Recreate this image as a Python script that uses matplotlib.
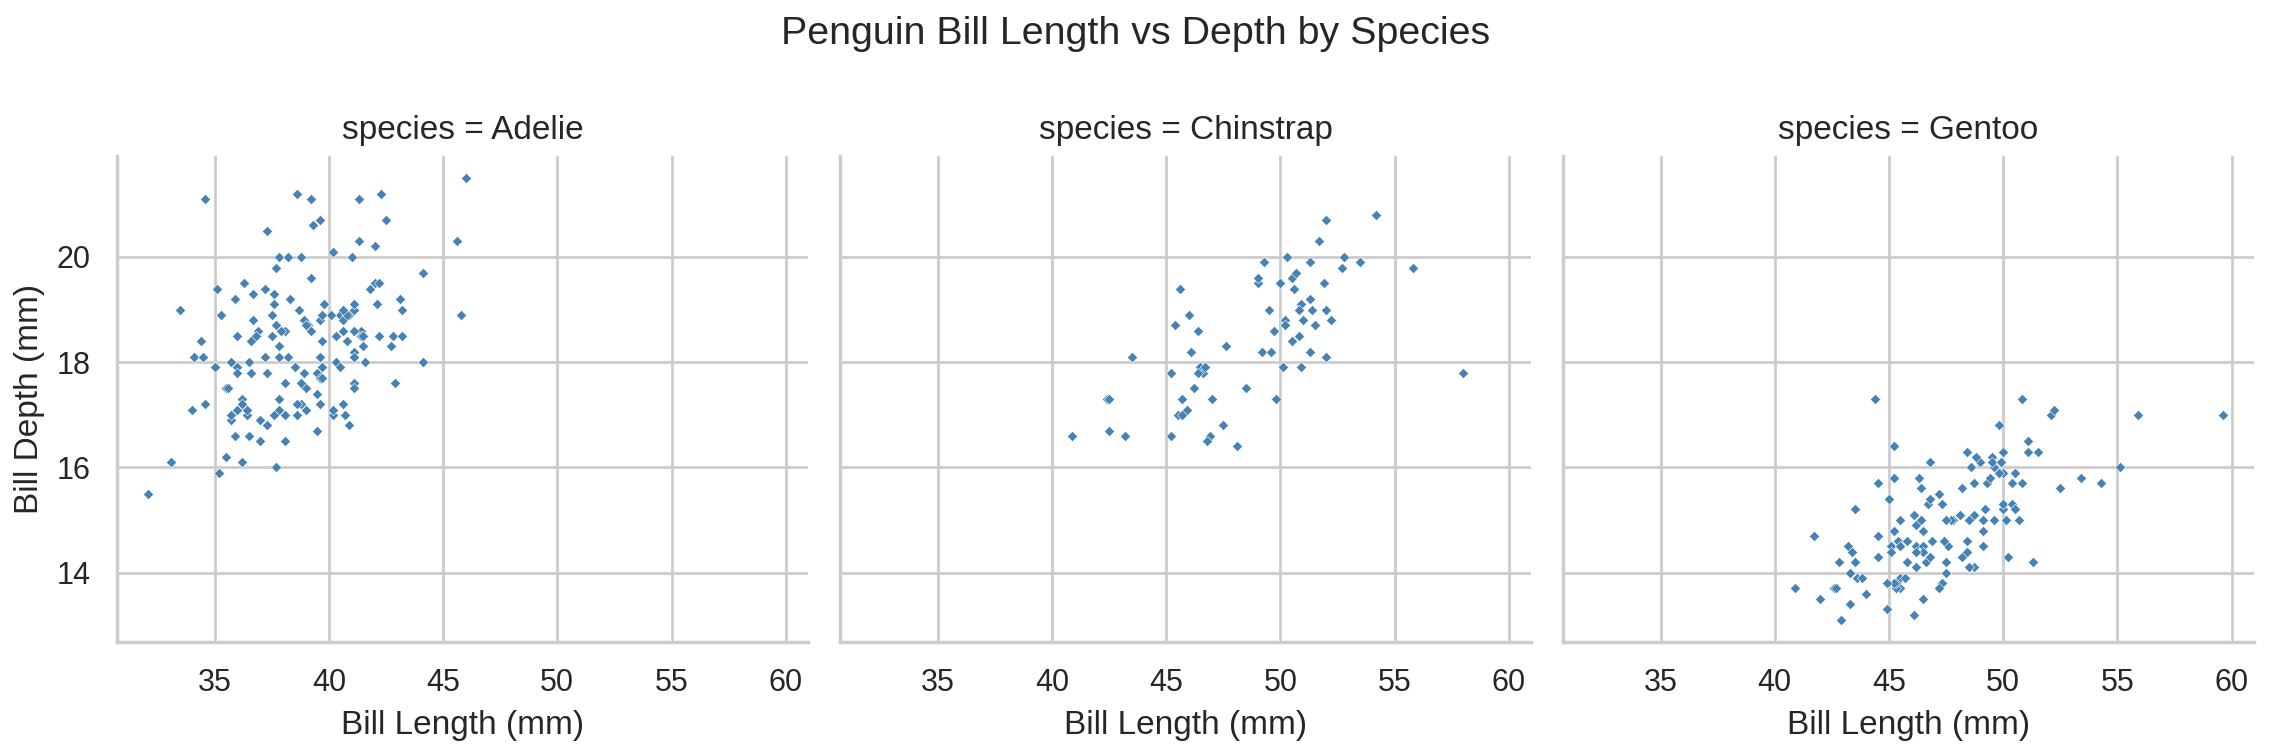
import numpy as np
import matplotlib
matplotlib.use('Agg')
import matplotlib.pyplot as plt
import seaborn as sns

# Bill length / depth (mm) per species
adelie_len = [39.1, 39.5, 40.3, 36.7, 39.3, 38.9, 39.2, 34.1, 42.0, 37.8, 37.8, 41.1, 38.6, 34.6, 36.6,
              38.7, 42.5, 34.4, 46.0, 37.8, 37.7, 35.9, 38.2, 38.8, 35.3, 40.6, 40.5, 37.9, 40.5, 39.5,
              37.2, 39.5, 40.9, 36.4, 39.2, 38.8, 42.2, 37.6, 39.8, 36.5, 40.8, 36.0, 44.1, 37.0, 39.6,
              41.1, 37.5, 36.0, 42.3, 39.6, 40.1, 35.0, 42.0, 34.5, 41.4, 39.0, 40.6, 36.5, 37.6, 35.7,
              41.3, 37.6, 41.1, 36.4, 41.6, 35.5, 41.1, 35.9, 41.8, 33.5, 39.7, 39.6, 45.8, 35.5, 42.8,
              40.9, 37.2, 36.2, 42.1, 34.6, 42.9, 36.7, 35.1, 37.3, 41.3, 36.3, 36.9, 38.3, 38.9, 35.7,
              41.1, 34.0, 39.6, 36.2, 40.8, 38.1, 40.3, 33.1, 43.2, 35.0, 41.0, 37.7, 37.8, 37.9, 39.7,
              38.6, 38.2, 38.1, 43.2, 38.1, 45.6, 39.7, 42.2, 39.6, 42.7, 38.6, 37.3, 35.7, 41.1, 36.2,
              37.7, 40.2, 41.4, 35.2, 40.6, 38.8, 41.5, 39.0, 44.1, 38.5, 43.1, 36.8, 37.5, 38.1, 41.1,
              35.6, 40.2, 37.0, 39.7, 40.2, 40.6, 32.1, 40.7, 37.3, 39.0, 39.2, 36.6, 36.0, 37.8, 36.0,
              41.5]
adelie_dep = [18.7, 17.4, 18.0, 19.3, 20.6, 17.8, 19.6, 18.1, 20.2, 17.1, 17.3, 17.6, 21.2, 21.1, 17.8,
              19.0, 20.7, 18.4, 21.5, 18.3, 18.7, 19.2, 18.1, 17.2, 18.9, 18.6, 17.9, 18.6, 18.9, 16.7,
              18.1, 17.8, 18.9, 17.0, 21.1, 20.0, 18.5, 19.3, 19.1, 18.0, 18.4, 18.5, 19.7, 16.9, 18.8,
              19.0, 18.9, 17.9, 21.2, 17.7, 18.9, 17.9, 19.5, 18.1, 18.6, 17.5, 18.8, 16.6, 19.1, 16.9,
              21.1, 17.0, 18.2, 17.1, 18.0, 16.2, 19.1, 16.6, 19.4, 19.0, 18.4, 17.2, 18.9, 17.5, 18.5,
              16.8, 19.4, 16.1, 19.1, 17.2, 17.6, 18.8, 19.4, 17.8, 20.3, 19.5, 18.6, 19.2, 18.8, 18.0,
              18.1, 17.1, 18.1, 17.3, 18.9, 18.6, 18.5, 16.1, 18.5, 17.9, 20.0, 16.0, 20.0, 18.6, 18.9,
              17.2, 20.0, 17.0, 19.0, 16.5, 20.3, 17.7, 19.5, 20.7, 18.3, 17.0, 20.5, 17.0, 18.6, 17.2,
              19.8, 17.0, 18.5, 15.9, 19.0, 17.6, 18.3, 17.1, 18.0, 17.9, 19.2, 18.5, 18.5, 17.6, 17.5,
              17.5, 20.1, 16.5, 17.9, 17.1, 17.2, 15.5, 17.0, 16.8, 18.7, 18.6, 18.4, 17.8, 18.1, 17.1,
              18.5]

chinstrap_len = [46.5, 50.0, 51.3, 45.4, 52.7, 45.2, 46.1, 51.3, 46.0, 51.3, 46.6, 51.7, 47.0, 52.0,
                 45.9, 50.5, 50.3, 58.0, 46.4, 49.2, 42.4, 48.5, 43.2, 50.6, 46.7, 52.0, 50.5, 49.5,
                 46.4, 52.8, 40.9, 54.2, 42.5, 51.0, 49.7, 47.5, 47.6, 52.0, 46.9, 53.5, 49.0, 46.2,
                 50.9, 45.5, 50.9, 50.8, 50.1, 49.0, 51.5, 49.8, 48.1, 51.4, 45.7, 50.7, 42.5, 52.2,
                 45.2, 49.3, 50.2, 45.6, 51.9, 46.8, 45.7, 55.8, 43.5, 49.6, 50.8, 50.2]
chinstrap_dep = [17.9, 19.5, 19.2, 18.7, 19.8, 17.8, 18.2, 18.2, 18.9, 19.9, 17.8, 20.3, 17.3, 18.1,
                 17.1, 19.6, 20.0, 17.8, 18.6, 18.2, 17.3, 17.5, 16.6, 19.4, 17.9, 19.0, 18.4, 19.0,
                 17.8, 20.0, 16.6, 20.8, 16.7, 18.8, 18.6, 16.8, 18.3, 20.7, 16.6, 19.9, 19.5, 17.5,
                 19.1, 17.0, 17.9, 18.5, 17.9, 19.6, 18.7, 17.3, 16.4, 19.0, 17.3, 19.7, 17.3, 18.8,
                 16.6, 19.9, 18.8, 19.4, 19.5, 16.5, 17.0, 19.8, 18.1, 18.2, 19.0, 18.7]

gentoo_len = [46.1, 50.0, 48.7, 50.0, 47.6, 46.5, 45.4, 46.7, 43.3, 46.8, 40.9, 49.0, 45.5, 48.4, 45.8,
              49.3, 42.0, 49.2, 46.2, 48.7, 50.2, 45.1, 46.5, 46.3, 42.9, 46.1, 44.5, 47.8, 48.2, 50.0,
              47.3, 42.8, 45.1, 59.6, 49.1, 48.4, 42.6, 44.4, 44.0, 48.7, 42.7, 49.6, 45.3, 49.6, 50.5,
              43.6, 45.5, 50.5, 44.9, 45.2, 46.6, 48.5, 45.1, 50.1, 46.5, 45.0, 43.8, 45.5, 43.2, 50.4,
              45.3, 46.2, 45.7, 54.3, 45.8, 49.8, 46.2, 49.5, 43.5, 50.7, 47.7, 46.4, 48.2, 46.5, 46.4,
              48.6, 47.5, 51.1, 45.2, 45.2, 49.1, 52.5, 47.4, 50.0, 44.9, 50.8, 43.4, 51.3, 47.5, 52.1,
              47.5, 52.2, 45.5, 49.5, 44.5, 50.8, 49.4, 46.9, 48.4, 51.1, 48.5, 55.9, 47.2, 49.1, 47.3,
              46.8, 41.7, 53.4, 43.3, 48.1, 50.5, 49.8, 43.5, 51.5, 46.2, 55.1, 44.5, 48.8, 47.2, 46.8,
              50.4, 45.2, 49.9]
gentoo_dep = [13.2, 16.3, 14.1, 15.2, 14.5, 13.5, 14.6, 15.3, 13.4, 15.4, 13.7, 16.1, 13.7, 14.6, 14.6,
              15.7, 13.5, 15.2, 14.5, 15.1, 14.3, 14.5, 14.5, 15.8, 13.1, 15.1, 14.3, 15.0, 14.3, 15.3,
              15.3, 14.2, 14.5, 17.0, 14.8, 16.3, 13.7, 17.3, 13.6, 15.7, 13.7, 16.0, 13.7, 15.0, 15.9,
              13.9, 13.9, 15.9, 13.3, 15.8, 14.2, 14.1, 14.4, 15.0, 14.4, 15.4, 13.9, 15.0, 14.5, 15.3,
              13.8, 14.9, 13.9, 15.7, 14.2, 16.8, 14.4, 16.2, 14.2, 15.0, 15.0, 15.6, 15.6, 14.8, 15.0,
              16.0, 14.2, 16.3, 13.8, 16.4, 14.5, 15.6, 14.6, 15.9, 13.8, 17.3, 14.4, 14.2, 14.0, 17.0,
              15.0, 17.1, 14.5, 16.1, 14.7, 15.7, 15.8, 14.6, 14.4, 16.5, 15.0, 17.0, 15.5, 15.0, 13.8,
              16.1, 14.7, 15.8, 14.0, 15.1, 15.2, 15.9, 15.2, 16.3, 14.1, 16.0, 15.7, 16.2, 13.7, 14.3,
              15.7, 14.8, 16.1]

species = ['Adelie', 'Chinstrap', 'Gentoo']
lengths = [adelie_len, chinstrap_len, gentoo_len]
depths = [adelie_dep, chinstrap_dep, gentoo_dep]

sns.set_theme(style='whitegrid')
plt.rcParams['font.family'] = ['Liberation Sans', 'DejaVu Sans']

DPI = 200
fig, axes = plt.subplots(1, 3, figsize=(2271 / DPI, 754 / DPI), dpi=DPI, sharex=True, sharey=True)

bottom, top = 0.1485, 0.7931
lefts = [0.0515, 0.3699, 0.6882]
width = 0.3043

for ax, name, x, y, left in zip(axes, species, lengths, depths, lefts):
    ax.set_position([left, bottom, width, top - bottom])
    ax.scatter(x, y, marker='D', s=7, color='#4682B4', edgecolor='white', linewidth=0.2)
    ax.set_title(f"species = {name}", fontsize=12)
    ax.set_xlabel("Bill Length (mm)", fontsize=12)
    ax.tick_params(labelsize=11)
    sns.despine(ax=ax)

axes[0].set_ylabel("Bill Depth (mm)", fontsize=12)
axes[0].set_xticks([35, 40, 45, 50, 55, 60])
axes[0].set_yticks([14, 16, 18, 20])

fig.suptitle("Penguin Bill Length vs Depth by Species", fontsize=14.2, y=0.955, va='center')

fig.savefig('out.png', dpi=DPI)
